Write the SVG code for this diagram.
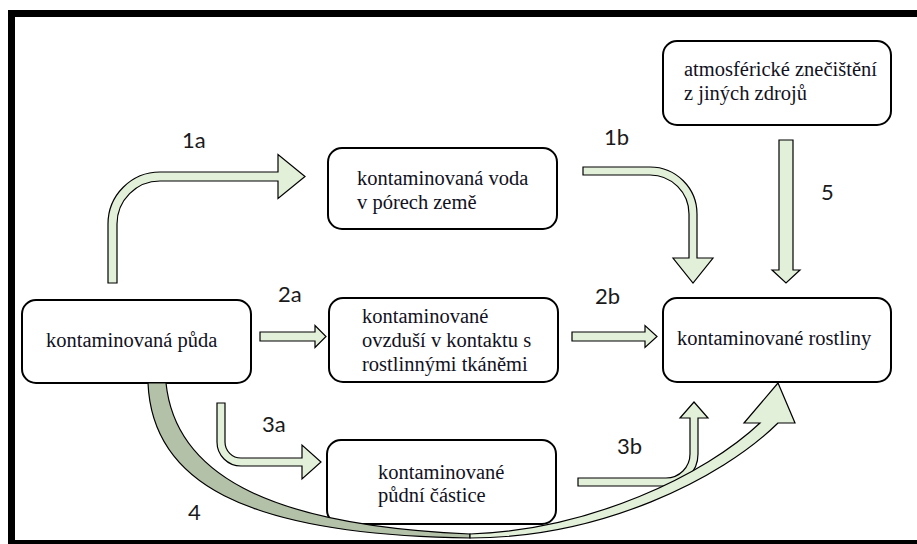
<svg xmlns="http://www.w3.org/2000/svg" width="917" height="544" viewBox="0 0 917 544">
<style>
.box{fill:#fff;stroke:#000;stroke-width:2}
.t{font-family:"Liberation Serif","Times New Roman",serif;font-size:20.5px;fill:#111122}
.lbl{font-family:Lato,"Open Sans",sans-serif;font-size:22px;fill:#1a1a1a}
.arr{fill:#e2efd9;stroke:#000;stroke-width:1.2;stroke-linejoin:miter}
.dark{fill:#b4c1a9;stroke:#000;stroke-width:1.2}
</style>
<rect width="917" height="544" fill="#fff"/>
<g id="frame">
<rect x="8" y="10" width="909" height="7" fill="#000"/>
<rect x="8" y="10" width="7" height="534" fill="#000"/>
<rect x="8" y="540" width="909" height="4" fill="#000"/>
</g>
<g id="node-atmos">
<rect class="box" x="663" y="41" width="228" height="84" rx="14"/>
<text class="t" x="684" y="76">atmosférické znečištění</text>
<text class="t" x="684" y="100">z jiných zdrojů</text>
</g>
<g id="node-voda">
<rect class="box" x="328" y="148" width="229" height="81" rx="14"/>
<text class="t" x="357" y="185">kontaminovaná voda</text>
<text class="t" x="357" y="209">v pórech země</text>
</g>
<g id="node-puda">
<rect class="box" x="22" y="300" width="229" height="83" rx="14"/>
<text class="t" x="46" y="347">kontaminovaná půda</text>
</g>
<g id="node-ovzdusi">
<rect class="box" x="329" y="298" width="229" height="84" rx="14"/>
<text class="t" x="362" y="323">kontaminované</text>
<text class="t" x="362" y="347">ovzduší v kontaktu s</text>
<text class="t" x="362" y="371">rostlinnými tkáněmi</text>
</g>
<g id="node-rostliny">
<rect class="box" x="663" y="298" width="228" height="84" rx="14"/>
<text class="t" x="677" y="345">kontaminované rostliny</text>
</g>
<g id="node-castice">
<rect class="box" x="327" y="440" width="229" height="84" rx="14"/>
<text class="t" x="378" y="479">kontaminované</text>
<text class="t" x="378" y="502">půdní částice</text>
</g>
<g id="connectors">
<path class="arr" d="M108,283 L108,224 A52,52 0 0 1 160,172 L278,172 L278,154.5 L305,176.5 L278,198.5 L278,181 L160,181 A43,43 0 0 0 117,224 L117,283 Z"/>
<path class="arr" d="M583,167 L650,167 A47,47 0 0 1 697,214 L697,258 L713,258 L693,283 L673,258 L689,258 L689,214 A39,39 0 0 0 650,175 L583,175 Z"/>
<path class="arr" d="M779,140 L793,140 L793,270 L800,270 L786,283 L772,270 L779,270 Z"/>
<path class="arr" d="M260,332 L315,332 L315,325.5 L326,336.5 L315,347.5 L315,341 L260,341 Z"/>
<path class="arr" d="M572,332 L645,332 L645,325.5 L657,336.5 L645,347.5 L645,341 L572,341 Z"/>
<path class="arr" d="M217,403 L225,403 L225,442 A16,16 0 0 0 241,458 L302,458 L302,445 L321,462 L302,479 L302,466 L241,466 A24,24 0 0 1 217,442 Z"/>
<path class="arr" d="M578,478 L666,478 A24,24 0 0 0 690,454 L690,418 L680,418 L694,402 L708,418 L698,418 L698,454 A32,32 0 0 1 666,486 L578,486 Z"/>
<path class="dark" d="M148,383 C152,480 240,535 470,538 L470,534 C260,525 175,470 166,383 Z"/>
<path class="arr" d="M470,538 C600,538 720,480 778,423 L795,423 L778,383 L744,423 L760,423 C705,475 590,530 470,534 Z"/>
</g>
<g id="labels">
<text class="lbl" x="182" y="148">1a</text>
<text class="lbl" x="604" y="145">1b</text>
<text class="lbl" x="278" y="302">2a</text>
<text class="lbl" x="595" y="304">2b</text>
<text class="lbl" x="262" y="432">3a</text>
<text class="lbl" x="617" y="454">3b</text>
<text class="lbl" x="188" y="520">4</text>
<text class="lbl" x="821" y="200">5</text>
</g>
</svg>
